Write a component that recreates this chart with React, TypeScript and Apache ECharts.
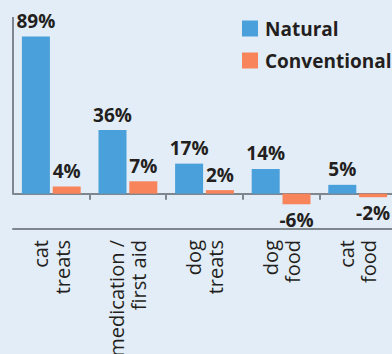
import React, { useEffect, useRef } from "react";
import * as echarts from "echarts";

const categories = ["cat\ntreats", "medication /\nfirst aid", "dog\ntreats", "dog\nfood", "cat\nfood"];
const naturalValues = [89, 36, 17, 14, 5];
const conventionalValues = [4, 7, 2, -6, -2];
const seriesNames = ["Natural", "Conventional"];

// sideways nudge (px, screen x) for each rotated category label
const labelNudge = [-9, -12, 0, 1, 4];

const BLUE = "#4aa0da";
const ORANGE = "#f7845a";
const AXIS = "#7f868d";
const TEXT = "#231f20";
const BG = "#e3edf7";
const GRID_LEFT = 13;

export default function App() {
  const ref = useRef<HTMLDivElement>(null);

  useEffect(() => {
    if (!ref.current) return;
    const chart = echarts.init(ref.current, null, { renderer: "svg" });

    const valueLabel = {
      show: true,
      fontFamily: "Open Sans",
      fontWeight: "bold" as const,
      fontSize: 19,
      color: TEXT,
      distance: 6,
      formatter: (p: any) => `${p.value}%`,
    };

    const barData = (vals: number[]) =>
      vals.map((v) => ({
        value: v,
        label: { position: v < 0 ? "bottom" : "top" },
      }));

    // rotated labels: padding on the text's bottom moves it left on screen
    const labelCategories = categories.map((c, i) => {
      const n = labelNudge[i];
      return {
        value: c,
        textStyle: {
          padding: n < 0 ? [0, 0, -2 * n, 0] : [2 * n, 0, 0, 0],
        },
      };
    });

    chart.setOption({
      animation: false,
      backgroundColor: BG,
      legend: {
        orient: "vertical",
        left: 242,
        top: 19,
        padding: 0,
        itemWidth: 16,
        itemHeight: 16,
        itemGap: 13,
        icon: "rect",
        textStyle: {
          fontFamily: "Open Sans",
          fontWeight: "bold",
          fontSize: 19,
          color: TEXT,
          padding: [0, 0, 0, 2],
        },
        data: seriesNames,
      },
      grid: {
        left: GRID_LEFT,
        top: 17,
        right: -4,
        height: 212,
        containLabel: false,
        outerBoundsMode: "none",
      },
      xAxis: [
        {
          type: "category",
          data: categories,
          axisLine: { onZero: true, lineStyle: { color: AXIS, width: 2 } },
          axisTick: {
            show: true,
            length: 6,
            interval: (i: number) => i !== 0,
            lineStyle: { color: AXIS, width: 2 },
          },
          axisLabel: { show: false },
        },
        {
          type: "category",
          data: labelCategories,
          position: "bottom",
          axisLine: { onZero: false, lineStyle: { color: AXIS, width: 2 } },
          axisTick: { show: false },
          axisLabel: {
            rotate: 90,
            margin: 11,
            interval: 0,
            fontFamily: "Open Sans",
            fontSize: 20,
            lineHeight: 22,
            color: TEXT,
          },
        },
      ],
      yAxis: {
        type: "value",
        min: -20,
        max: 100,
        axisLine: { show: false },
        axisTick: { show: false },
        axisLabel: { show: false },
        splitLine: { show: false },
      },
      series: [
        {
          name: seriesNames[0],
          type: "bar",
          barWidth: 28,
          barGap: "10%",
          itemStyle: { color: BLUE },
          label: valueLabel,
          data: barData(naturalValues),
        },
        {
          name: seriesNames[1],
          type: "bar",
          barWidth: 28,
          barGap: "10%",
          itemStyle: { color: ORANGE },
          label: valueLabel,
          data: barData(conventionalValues),
        },
      ],
    });

    // vertical axis line drawn from the top of the scale down to zero only
    const yTop = chart.convertToPixel({ yAxisIndex: 0 }, 100) as number;
    const yZero = chart.convertToPixel({ yAxisIndex: 0 }, 0) as number;
    chart.setOption({
      graphic: [
        {
          type: "line",
          shape: { x1: GRID_LEFT, y1: yTop, x2: GRID_LEFT, y2: yZero },
          style: { stroke: AXIS, lineWidth: 2 },
          z: 10,
        },
      ],
    });

    return () => chart.dispose();
  }, []);

  return (
    <div
      ref={ref}
      style={{ position: "fixed", left: 0, top: 0, width: 392, height: 354, background: BG }}
    />
  );
}
